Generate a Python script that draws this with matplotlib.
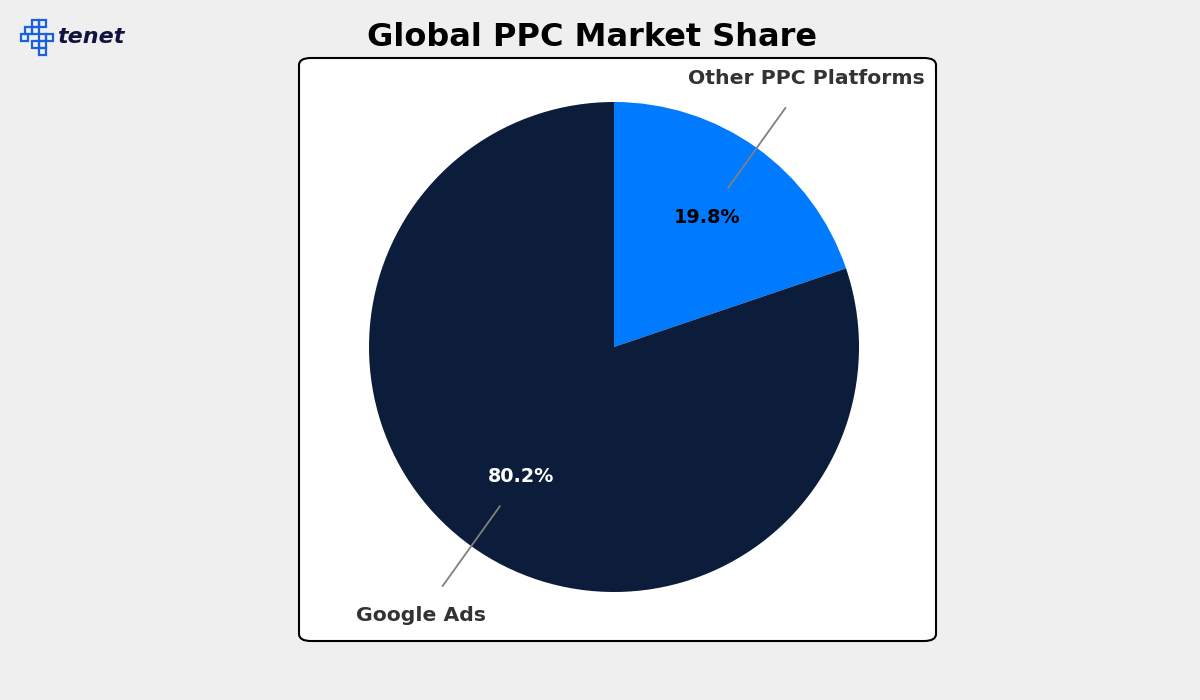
import numpy as np
import matplotlib.pyplot as plt
from matplotlib.patches import FancyBboxPatch, Rectangle

# data
labels = ["Other PPC Platforms", "Google Ads"]
shares = [19.8, 80.2]
colors = ["#007bff", "#0b1d3a"]
pct_colors = ["black", "white"]

fig = plt.figure(figsize=(12, 7), dpi=100, facecolor="#efefef")
W, H = 1200.0, 700.0

# white rounded panel
panel = FancyBboxPatch((299 / W, 1 - 641 / H), 637 / W, 583 / H,
                       boxstyle="round,pad=0,rounding_size=0.01",
                       transform=fig.transFigure, facecolor="white",
                       edgecolor="black", linewidth=1.5, zorder=-5)
fig.patches.append(panel)

# pie axes: radius 1 -> 245 px, centre (614, 347)
R = 245.0
L = 1.3
Ly = 1.19
ax = fig.add_axes([(614 - L * R) / W, (H - 347 - Ly * R) / H, 2 * L * R / W, 2 * Ly * R / H])
ax.set_zorder(2)
ax.patch.set_visible(False)
ax.set_xlim(-L, L)
ax.set_ylim(-Ly, Ly)
ax.set_aspect("equal")
ax.axis("off")

wedges, texts = ax.pie(shares, colors=colors, startangle=90, counterclock=False,
                       radius=1.0, wedgeprops=dict(linewidth=0))
ax.set_xlim(-L, L)
ax.set_ylim(-Ly, Ly)

for w, lab, val, pc in zip(wedges, labels, shares, pct_colors):
    mid = np.deg2rad((w.theta1 + w.theta2) / 2)
    c, s = np.cos(mid), np.sin(mid)
    ax.text(0.65 * c, 0.65 * s, f"{val:.1f}%", ha="center", va="center",
            color=pc, fontsize=13.8, fontweight="bold")
    ax.plot([0.8 * c, 1.2 * c], [0.8 * s, 1.2 * s], color="#808080", lw=1.3)
    ax.text(1.35 * c, 1.35 * s, lab, ha="center", va="center",
            color="#333333", fontsize=14.7, fontweight="bold")

fig.text(592 / W, 1 - 38 / H, "Global PPC Market Share", ha="center", va="center",
         fontsize=23, fontweight="bold", family="DejaVu Sans", color="black")

# logo
sq = 7
cells = [(32, 20), (39, 20), (25, 27), (32, 27), (39, 34), (46, 34),
         (32, 41), (39, 41), (21, 34), (39, 48)]
for x, y in cells:
    fig.patches.append(Rectangle((x / W, 1 - (y + sq) / H), sq / W, sq / H,
                                 transform=fig.transFigure, facecolor="none",
                                 edgecolor="#1a5fe0", linewidth=1.6))
fig.text(57 / W, 1 - 37 / H, "tenet", ha="left", va="center", fontsize=16,
         fontweight="bold", style="italic", color="#13123e", family="DejaVu Sans")

fig.savefig("out.png", dpi=100, facecolor=fig.get_facecolor())
